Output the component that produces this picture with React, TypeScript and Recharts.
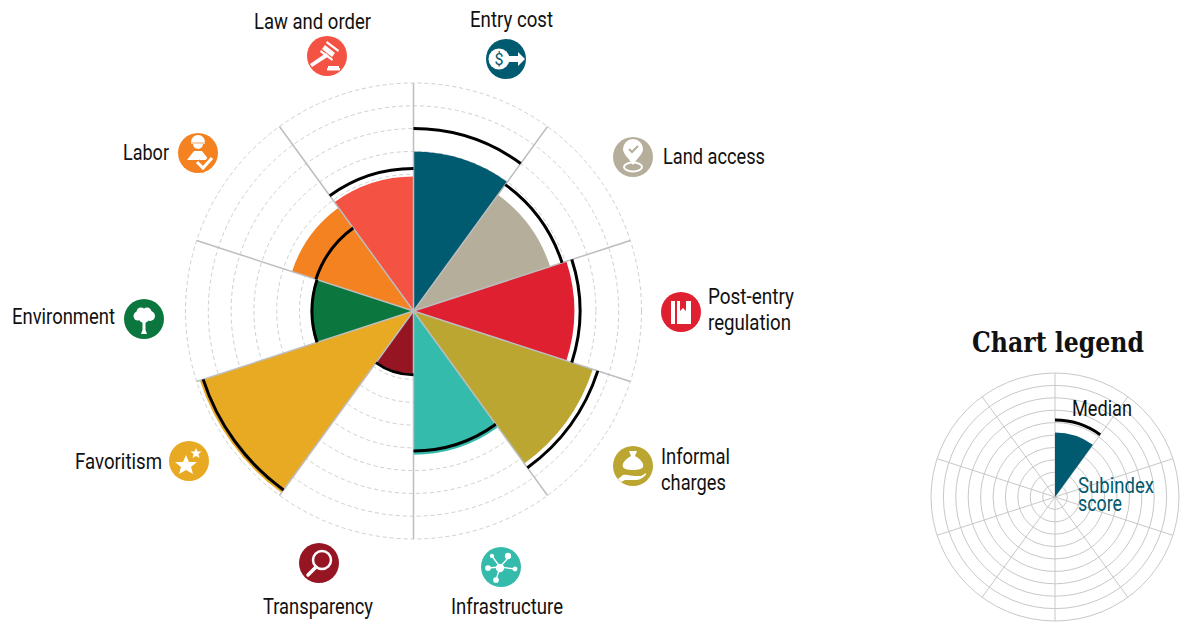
import React from 'react'
import {
  RadialBarChart,
  RadialBar,
  PolarAngleAxis,
  PolarRadiusAxis,
  PolarGrid,
  Cell,
} from 'recharts'

const CATEGORIES = [
  'Entry cost',
  'Land access',
  'Post-entry regulation',
  'Informal charges',
  'Infrastructure',
  'Transparency',
  'Favoritism',
  'Environment',
  'Labor',
  'Law and order',
]
const SCORES = [7.0, 6.3, 7.05, 8.27, 6.3, 2.75, 9.85, 4.5, 5.6, 5.9]
const MEDIANS = [8.0, 6.85, 7.3, 8.5, 6.14, 2.8, 9.7, 4.45, 4.5, 6.25]
const COLORS = [
  '#005a70',
  '#b5ae9a',
  '#de2030',
  '#bca632',
  '#34bbac',
  '#951622',
  '#e8aa22',
  '#0b763d',
  '#f58220',
  '#f45242',
]
const RADIUS_TICKS = [0, 1, 2, 3, 4, 5, 6, 7, 8, 9, 10]

const LEGEND_CATEGORIES = ['a', 'b', 'c', 'd', 'e', 'f', 'g', 'h', 'i', 'j']
const LEGEND_SCORES = [5.2, 0, 0, 0, 0, 0, 0, 0, 0, 0]
const LEGEND_MEDIANS = [6.2, 0, 0, 0, 0, 0, 0, 0, 0, 0]

const chartData = CATEGORIES.map((name, i) => ({ name, score: SCORES[i], median: MEDIANS[i] }))
const legendData = LEGEND_CATEGORIES.map((name, i) => ({
  name,
  score: LEGEND_SCORES[i],
  median: LEGEND_MEDIANS[i],
}))
const spokeAngles = CATEGORIES.map((_, i) => 90 - i * 36)

const WIDTH = 1182
const HEIGHT = 622
const TEXT_FONT = 'Roboto, sans-serif'
// each band runs counter-clockwise from its scale position, so the axis starts one band early
const AXIS_START = 54
const AXIS_END = -306

// label placement: icon centre, then text lines (x, baseline, width)
const LABEL_LAYOUT: Record<string, { icon: [number, number]; lines: [string, number, number, number][] }> = {
  'Entry cost': { icon: [506, 59], lines: [['Entry cost', 470, 27, 83]] },
  'Land access': { icon: [633, 157], lines: [['Land access', 663, 164, 102]] },
  'Post-entry regulation': {
    icon: [681, 312],
    lines: [['Post-entry', 708, 304, 86], ['regulation', 708, 330, 83]],
  },
  'Informal charges': {
    icon: [633, 466],
    lines: [['Informal', 661, 464, 69], ['charges', 661, 490, 65]],
  },
  Infrastructure: { icon: [501, 567], lines: [['Infrastructure', 451, 614, 112]] },
  Transparency: { icon: [319, 563], lines: [['Transparency', 263, 614, 110]] },
  Favoritism: { icon: [189, 461], lines: [['Favoritism', 75, 469, 87]] },
  Environment: { icon: [144, 319], lines: [['Environment', 12, 324, 103]] },
  Labor: { icon: [198, 153], lines: [['Labor', 123, 160, 46]] },
  'Law and order': { icon: [327, 56], lines: [['Law and order', 254, 29, 117]] },
}

function Glyph({ name, color }: { name: string; color: string }) {
  switch (name) {
    case 'Entry cost':
      return (
        <g>
          <circle cx={-7} cy={0} r={10.5} fill="#fff" />
          <path d="M2 -3 H12 V-7 L19 0 L12 7 V3 H2 Z" fill="#fff" />
          <text x={-7} y={6} textAnchor="middle" fontSize={16} fontFamily={TEXT_FONT} fill={color}>$</text>
        </g>
      )
    case 'Land access':
      return (
        <g>
          <path d="M0 8 C-5 0 -10 -3 -10 -8 A10 10 0 0 1 10 -8 C10 -3 5 0 0 8 Z" fill="#fff" />
          <path d="M-4 -8 L-1 -5 L5 -11" fill="none" stroke={color} strokeWidth={2} />
          <ellipse cx={0} cy={10} rx={9} ry={4.5} fill="none" stroke="#fff" strokeWidth={2} />
        </g>
      )
    case 'Post-entry regulation':
      return (
        <g>
          <rect x={-10} y={-11} width={4} height={23} fill="#fff" />
          <path d="M-4 -11 H-1 V-1 L2 -4 L5 -1 V-11 H10 V12 H-4 Z" fill="#fff" />
        </g>
      )
    case 'Informal charges':
      return (
        <g>
          <path d="M-4 -15 H4 L2 -10 C9 -6 11 -2 10 1 C9 5 -9 5 -10 1 C-11 -2 -9 -6 -2 -10 Z" fill="#fff" />
          <path d="M-15 13 L-10 9 C-6 8 -2 10 2 10 L8 10 L13 7 C14 9 8 14 3 14 L-8 14 L-12 16 Z" fill="#fff" />
        </g>
      )
    case 'Infrastructure':
      return (
        <g stroke="#fff" strokeWidth={1.3} fill="#fff">
          <path d="M-1 0 L-9 -11 M-1 0 L7 -9 M-1 0 L14 2 M-1 0 L-13 1 M-1 0 L-5 13" fill="none" />
          <circle cx={-1} cy={1} r={3.5} />
          <circle cx={-9} cy={-11} r={1.5} />
          <circle cx={7} cy={-11} r={2.5} />
          <circle cx={14} cy={2} r={1.8} />
          <circle cx={-13} cy={1} r={2.2} />
          <circle cx={-5} cy={13} r={2.2} />
        </g>
      )
    case 'Transparency':
      return (
        <g fill="none" stroke="#fff">
          <circle cx={3} cy={-3} r={9} strokeWidth={2.5} />
          <path d="M-3 4 L-11 12" strokeWidth={3.5} strokeLinecap="round" />
        </g>
      )
    case 'Favoritism':
      return (
        <g fill="#fff">
          <path d="M-3 -6 L0 1 L8 1 L2 6 L4 13 L-3 9 L-10 13 L-8 6 L-14 1 L-6 1 Z" />
          <path d="M7 -13 L8.5 -9.5 L12.5 -9.5 L9.5 -7 L10.5 -3 L7 -5 L3.5 -3 L4.5 -7 L1.5 -9.5 L5.5 -9.5 Z" />
        </g>
      )
    case 'Environment':
      return (
        <g fill="#fff">
          <circle cx={-6} cy={-3} r={4.5} />
          <circle cx={6} cy={-3} r={5} />
          <circle cx={-3} cy={-7} r={4.5} />
          <circle cx={3} cy={-7} r={4.5} />
          <circle cx={0} cy={-1} r={5} />
          <path d="M-1.5 0 H1.5 V11 L3 15 H-3 L-1.5 11 Z" />
        </g>
      )
    case 'Labor':
      return (
        <g>
          <path d="M-7 -11 A7 7 0 0 1 7 -11 Z" fill="#fff" />
          <rect x={-7} y={-11} width={14} height={2} fill="#fbd0a8" />
          <path d="M-5 -9 H5 A5 5 0 0 1 -5 -9 Z" fill="#fff" />
          <path d="M-4 -2 H4 L11 7 H-11 Z" fill="#fff" />
          <path d="M-1 9 L5 15 L14 5" fill="none" stroke={color} strokeWidth={7} />
          <path d="M-1 9 L5 15 L14 5" fill="none" stroke="#fff" strokeWidth={3} />
        </g>
      )
    case 'Law and order':
      return (
        <g fill="#fff">
          <path d="M-2 -11 L8 -3 L5 1 L-5 -7 Z" />
          <path d="M0 -15 L12 -6 L11 -4 L-1 -13 Z" />
          <path d="M-6 -6 L6 3 L5 5 L-7 -4 Z" />
          <path d="M-1 -3 L2 -0 L-15 11 L-17 8 Z" />
          <rect x={1} y={10} width={11} height={2} />
          <rect x={0} y={12} width={13} height={2.5} />
        </g>
      )
    default:
      return null
  }
}

function CategoryTick({ payload }: any) {
  const name = payload?.value as string
  const layout = LABEL_LAYOUT[name]
  const color = COLORS[CATEGORIES.indexOf(name)]
  if (!layout) return null
  return (
    <g>
      <g transform={`translate(${layout.icon[0]},${layout.icon[1]})`}>
        <circle r={20} fill={color} />
        <Glyph name={name} color={color} />
      </g>
      {layout.lines.map(([line, x, y, w]) => (
        <text
          key={line}
          x={x}
          y={y}
          textLength={w}
          lengthAdjust="spacingAndGlyphs"
          fontSize={22}
          fontFamily={TEXT_FONT}
          fill="#111"
        >
          {line}
        </text>
      ))}
    </g>
  )
}

// arc only, on the outer edge of the sector
function MedianArc(props: any) {
  const { cx, cy, outerRadius, startAngle, endAngle } = props
  if (!outerRadius) return null
  const toPoint = (deg: number) => {
    const rad = (deg * Math.PI) / 180
    return [cx + outerRadius * Math.cos(rad), cy - outerRadius * Math.sin(rad)]
  }
  const [x0, y0] = toPoint(Math.max(startAngle, endAngle))
  const [x1, y1] = toPoint(Math.min(startAngle, endAngle))
  return (
    <path
      d={`M${x0} ${y0} A${outerRadius} ${outerRadius} 0 0 1 ${x1} ${y1}`}
      fill="none"
      stroke="#000"
      strokeWidth={3}
    />
  )
}

const layerStyle: React.CSSProperties = { position: 'absolute', left: 0, top: 0 }
const mainPolar = { cx: 413.5, cy: 311, innerRadius: 0, outerRadius: 228, startAngle: AXIS_START, endAngle: AXIS_END }
const legendPolar = { cx: 1055, cy: 497, innerRadius: 0, outerRadius: 124, startAngle: AXIS_START, endAngle: AXIS_END }
const flatMargin = { top: 0, right: 0, bottom: 0, left: 0 }

export default function App() {
  return (
    <div style={{ position: 'absolute', left: 0, top: 0, width: WIDTH, height: HEIGHT, background: '#fff' }}>
      <div style={layerStyle}>
        <RadialBarChart width={WIDTH} height={HEIGHT} data={chartData} layout="centric" {...mainPolar} barCategoryGap={0} barGap={0} margin={flatMargin}>
          <PolarAngleAxis
            type="category"
            dataKey="name"
            axisLine={false}
            tickLine={false}
            tick={(p: any) => <CategoryTick {...p} />}
          />
          <PolarRadiusAxis type="number" domain={[0, 10]} ticks={RADIUS_TICKS as any} tickCount={11} axisLine={false} tick={false} />
          <PolarGrid gridType="circle" radialLines={false} stroke="#cfcfcf" strokeDasharray="4 3" />
          <RadialBar dataKey="score" isAnimationActive={false}>
            {COLORS.map((c) => (
              <Cell key={c} fill={c} />
            ))}
          </RadialBar>
        </RadialBarChart>
      </div>
      <div style={layerStyle}>
        {/* spokes and median arcs sit above the sectors */}
        <RadialBarChart width={WIDTH} height={HEIGHT} data={chartData} layout="centric" {...mainPolar} barCategoryGap={0} barGap={0} margin={flatMargin}>
          <PolarAngleAxis type="category" dataKey="name" axisLine={false} tickLine={false} tick={false} />
          <PolarRadiusAxis type="number" domain={[0, 10]} axisLine={false} tick={false} />
          <PolarGrid gridType="circle" polarRadius={[]} polarAngles={spokeAngles} stroke="#bdbdbd" strokeWidth={1.5} />
          <RadialBar dataKey="median" isAnimationActive={false} shape={<MedianArc />} />
        </RadialBarChart>
      </div>
      <div style={layerStyle}>
        <RadialBarChart width={WIDTH} height={HEIGHT} data={legendData} layout="centric" {...legendPolar} barCategoryGap={0} barGap={0} margin={flatMargin}>
          <PolarAngleAxis type="category" dataKey="name" axisLine={false} tickLine={false} tick={false} />
          <PolarRadiusAxis type="number" domain={[0, 10]} ticks={RADIUS_TICKS as any} tickCount={11} axisLine={false} tick={false} />
          <PolarGrid gridType="circle" polarAngles={spokeAngles} stroke="#c8c8c8" />
          <RadialBar dataKey="score" fill={COLORS[0]} isAnimationActive={false} />
          <text x={972} y={352} textLength={172} lengthAdjust="spacingAndGlyphs" fontSize={27} fontWeight="bold" fontFamily="'DejaVu Serif', serif" fill="#111">
            Chart legend
          </text>
          <text x={1072} y={416} textLength={60} lengthAdjust="spacingAndGlyphs" fontSize={22} fontFamily={TEXT_FONT} fill="#111">
            Median
          </text>
          <text fontSize={22} fontFamily={TEXT_FONT} fill={COLORS[0]}>
            <tspan x={1078} y={493} textLength={76} lengthAdjust="spacingAndGlyphs">Subindex</tspan>
            <tspan x={1078} y={511} textLength={44} lengthAdjust="spacingAndGlyphs">score</tspan>
          </text>
        </RadialBarChart>
      </div>
      <div style={layerStyle}>
        <RadialBarChart width={WIDTH} height={HEIGHT} data={legendData} layout="centric" {...legendPolar} barCategoryGap={0} barGap={0} margin={flatMargin}>
          <PolarAngleAxis type="category" dataKey="name" axisLine={false} tickLine={false} tick={false} />
          <PolarRadiusAxis type="number" domain={[0, 10]} axisLine={false} tick={false} />
          <RadialBar dataKey="median" isAnimationActive={false} shape={<MedianArc />} />
        </RadialBarChart>
      </div>
    </div>
  )
}
